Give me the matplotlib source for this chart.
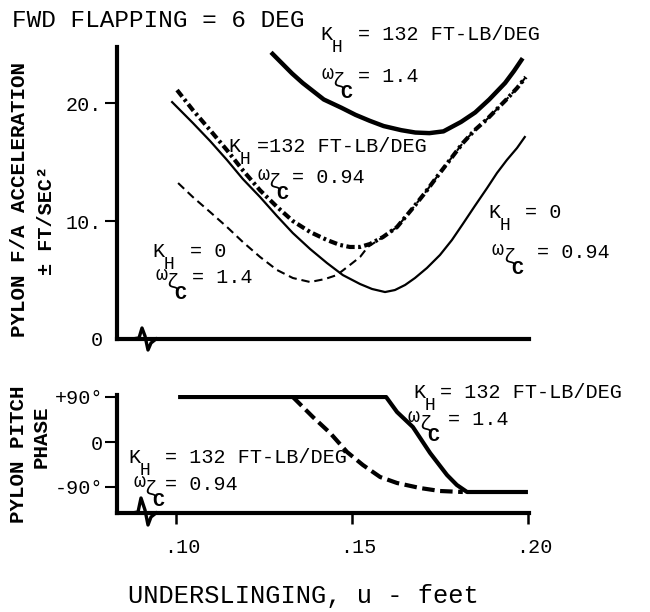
import matplotlib
matplotlib.use("Agg")
import matplotlib.pyplot as plt
from matplotlib.transforms import ScaledTranslation

plt.rcParams['font.family'] = ['Liberation Mono', 'DejaVu Sans Mono', 'DejaVu Sans']
plt.rcParams['lines.scale_dashes'] = False

# ---------------- data ----------------
# Top panel: pylon F/A acceleration (ft/sec^2) vs undersling (ft)
# KH = 132 FT-LB/DEG, omega = 1.4  (thick solid)
kh132_w14_x = [0.127, 0.130, 0.133, 0.136, 0.139, 0.142, 0.147, 0.151, 0.155, 0.159,
               0.164, 0.168, 0.172, 0.176, 0.181, 0.185, 0.189, 0.1935, 0.196, 0.1985]
kh132_w14_y = [24.3, 23.4, 22.5, 21.7, 21.0, 20.3, 19.6, 19.0, 18.5, 18.05,
               17.7, 17.5, 17.45, 17.6, 18.4, 19.2, 20.3, 21.7, 22.7, 23.8]
# KH = 132 FT-LB/DEG, omega = 0.94 (thick dash-dot)
kh132_w094_x = [0.1003, 0.1048, 0.1097, 0.1145, 0.1190, 0.1239, 0.1287, 0.1332, 0.1381,
                0.1429, 0.1466, 0.1494, 0.1523, 0.1551, 0.1588, 0.1628, 0.1673, 0.1707,
                0.1741, 0.1778, 0.1815, 0.1849, 0.1884, 0.1912, 0.1940, 0.1969, 0.1994]
kh132_w094_y = [21.1, 19.4, 17.7, 16.0, 14.3, 12.6, 11.2, 10.0, 9.07,
                8.39, 7.97, 7.8, 7.8, 8.05, 8.64, 9.49, 11.1, 12.37,
                13.73, 15.17, 16.61, 17.71, 18.64, 19.49, 20.34, 21.27, 22.2]
# KH = 0, omega = 0.94 (thin solid)
kh0_w094_x = [0.0989, 0.1048, 0.1097, 0.1145, 0.1190, 0.1239, 0.1287, 0.1332, 0.1381,
              0.1429, 0.1474, 0.1523, 0.1557, 0.1594, 0.1622, 0.1651, 0.1679, 0.1713,
              0.1750, 0.1784, 0.1815, 0.1849, 0.1884, 0.1912, 0.1940, 0.1969, 0.1991]
kh0_w094_y = [20.08, 18.31, 16.78, 15.17, 13.56, 12.03, 10.42, 8.98, 7.63,
              6.44, 5.42, 4.66, 4.24, 3.98, 4.15, 4.58, 5.17, 6.02,
              7.12, 8.39, 9.75, 11.27, 12.8, 14.07, 15.17, 16.19, 17.12]
# KH = 0, omega = 1.4 (thin dashed) - joins the dash-dot curve on the right
kh0_w14_x = [0.1006, 0.1048, 0.1097, 0.1145, 0.1190, 0.1239, 0.1287, 0.1332, 0.1381,
             0.1423, 0.1457, 0.1494, 0.1523, 0.1545, 0.1588, 0.1628, 0.1673, 0.1707,
             0.1741, 0.1778, 0.1815, 0.1849, 0.1884, 0.1912, 0.1940, 0.1969, 0.1994]
kh0_w14_y = [13.22, 12.03, 10.76, 9.49, 8.22, 6.95, 5.85, 5.17, 4.83,
             5.08, 5.42, 6.27, 6.95, 7.8, 8.64, 9.49, 11.1, 12.37,
             13.73, 15.17, 16.61, 17.71, 18.64, 19.49, 20.34, 21.27, 22.2]

# Bottom panel: pylon pitch phase (deg)
phase_w14_x = [0.1006, 0.1597, 0.1628, 0.1673, 0.1722, 0.1770, 0.1798, 0.1827, 0.2000]
phase_w14_y = [90, 90, 60, 30, -22, -66, -86, -100, -100]
phase_w094_x = [0.1332, 0.1389, 0.1438, 0.1486, 0.1531, 0.1580, 0.1628, 0.1693, 0.1750, 0.1815]
phase_w094_y = [90, 50, 18, -20, -46, -70, -82, -92, -98, -100]

acc_ticks = [0, 10, 20]
acc_ticklabels = ['0', '10.', '20.']
phase_ticks = [90, 0, -90]
phase_ticklabels = ['+90°', '0', '-90°']
u_ticks = [0.10, 0.15, 0.20]
u_ticklabels = ['.10', '.15', '.20']

# ---------------- figure ----------------
W, H = 650, 612
fig = plt.figure(figsize=(W / 100, H / 100), dpi=100)
fig.patch.set_facecolor('white')

ax1 = fig.add_axes([117 / W, 1 - 339 / H, 412 / W, 292 / H])
ax2 = fig.add_axes([117 / W, 1 - 513 / H, 412 / W, 118 / H])

XL = (0.08324, 0.2003)
for ax in (ax1, ax2):
    ax.set_xlim(*XL)
    ax.set_facecolor('none')
    for s in ('top', 'right'):
        ax.spines[s].set_visible(False)
    for s in ('left', 'bottom'):
        ax.spines[s].set_linewidth(3)
        ax.spines[s].set_capstyle('projecting')

ax1.set_ylim(0, 24.75)
ax2.set_ylim(-142, 94)

# curves
ax1.plot(kh132_w14_x, kh132_w14_y, color='black', lw=3.2, solid_capstyle='butt')
ax1.plot(kh132_w094_x, kh132_w094_y, color='black', lw=3.0,
         linestyle=(0, (6, 2.5, 2, 2.5)), dash_capstyle='butt')
ax1.plot(kh0_w094_x, kh0_w094_y, color='black', lw=1.6)
ax1.plot(kh0_w14_x, kh0_w14_y, color='black', lw=1.5,
         linestyle=(0, (6, 3.5)), dash_capstyle='butt')

ax2.plot(phase_w14_x, phase_w14_y, color='black', lw=3.0, solid_capstyle='butt')
ax2.plot(phase_w094_x, phase_w094_y, color='black', lw=3.0,
         linestyle=(0, (9, 4)), dash_capstyle='butt')

# ticks
ax1.set_yticks(acc_ticks)
ax1.set_yticklabels(acc_ticklabels)
ax1.tick_params(axis='y', direction='out', length=8.5, width=1.5, pad=2, labelsize=14.5)
ax1.tick_params(axis='x', bottom=False, labelbottom=False)
ax1.yaxis.get_major_ticks()[0].tick1line.set_visible(False)

ax2.set_yticks(phase_ticks)
ax2.set_yticklabels(phase_ticklabels)
ax2.tick_params(axis='y', direction='out', length=9, width=1.5, pad=1, labelsize=14.5)
ax2.set_xticks(u_ticks)
ax2.set_xticklabels(u_ticklabels)
ax2.tick_params(axis='x', direction='out', length=8, width=1.8, pad=10, labelsize=14.5)
for lab in ax2.get_xticklabels():
    lab.set_transform(lab.get_transform() + ScaledTranslation(6 / 100, 0, fig.dpi_scale_trans))

# axis break marks
def brk(ax, pts, h):
    xs = [(p[0] - 117) / 412 for p in pts]
    ys = [p[1] / h for p in pts]
    ax.plot(xs, ys, transform=ax.transAxes, color='black', lw=2.4, clip_on=False,
            solid_joinstyle='round')

brk(ax1, [(132, 0), (139, 1), (142, 11), (145, 3), (148, -11), (151, -4), (156, 0)], 292)
brk(ax2, [(132, 0), (138, 1), (141, 15), (145, 3), (148, -12), (151, -4), (156, 0)], 118)

# ---------------- text ----------------
def T(x, y, s, fs=14.5, weight='normal', **kw):
    fig.text(x / W, 1 - y / H, s, fontsize=fs, va='baseline', ha='left',
             weight=weight, **kw)

def kh(x, y, rest, dx):
    T(x, y, 'K')
    T(x + 12, y + 12, 'H', fs=13)
    T(x + dx, y, rest)

def om(x, y, rest, dx):
    T(x, y - 3, 'ω')
    T(x + 11, y + 5, 'ζ')
    T(x + 19, y + 16, 'C', weight='bold')
    T(x + dx, y, rest)

T(12, 27, 'FWD FLAPPING = 6 DEG', fs=17.6)

kh(320, 40, '= 132 FT-LB/DEG', 38)
om(321, 82, '= 1.4', 37)
kh(228, 152, '=132 FT-LB/DEG', 29)
om(257, 183, '= 0.94', 35)
kh(152, 257, '= 0', 38)
om(155, 283, '= 1.4', 37)
kh(488, 218, '= 0', 37)
om(492, 258, '= 0.94', 45)
kh(128, 463, '= 132 FT-LB/DEG', 37)
om(133, 490, '= 0.94', 32)
kh(413, 398, '= 132 FT-LB/DEG', 27)
om(408, 425, '= 1.4', 40)

fig.text(20 / W, 1 - 200 / H, 'PYLON F/A ACCELERATION', rotation=90, ha='center',
         va='center', fontsize=15, weight='bold')
fig.text(46 / W, 1 - 220 / H, '± FT/SEC²', rotation=90, ha='center',
         va='center', fontsize=14.5, weight='bold')
fig.text(19 / W, 1 - 454 / H, 'PYLON PITCH', rotation=90, ha='center',
         va='center', fontsize=15, weight='bold')
fig.text(41 / W, 1 - 437 / H, 'PHASE', rotation=90, ha='center',
         va='center', fontsize=15, weight='bold')

fig.text(303 / W, 1 - 603 / H, 'UNDERSLINGING, u - feet', ha='center', va='baseline',
         fontsize=18.3)

fig.savefig('out.png', dpi=100, facecolor='white')
